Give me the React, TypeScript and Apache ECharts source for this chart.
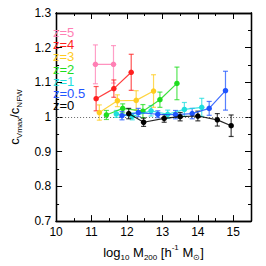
import React, { useEffect, useRef } from "react";
import * as echarts from "echarts";

const labels = ["z=5", "z=4", "z=3", "z=2", "z=1", "z=0.5", "z=0"];
const colors = ["#ff7fb4", "#ff1f1f", "#ffcc1f", "#1fdd1f", "#1fdede", "#1f55ff", "#000000"];

const z5X = [11.11, 11.62];
const z5Y = [1.152, 1.152];
const z5E = [0.056, 0.054];
const z4X = [11.13, 11.63, 12.12];
const z4Y = [1.053, 1.082, 1.129];
const z4E = [0.035, 0.025, 0.052];
const z3X = [11.22, 11.73, 12.26, 12.75];
const z3Y = [1.013, 1.047, 1.048, 1.075];
const z3E = [0.022, 0.017, 0.028, 0.047];
const z2X = [11.42, 11.88, 12.45, 12.93, 13.41];
const z2Y = [1.006, 1.025, 1.017, 1.05, 1.097];
const z2E = [0.013, 0.013, 0.019, 0.022, 0.047];
const z1X = [11.7, 12.15, 12.68, 13.15, 13.62, 14.11];
const z1Y = [1.009, 1.002, 1.018, 1.008, 1.022, 1.028];
const z1E = [0.01, 0.01, 0.015, 0.012, 0.02, 0.026];
const z05X = [11.86, 12.32, 12.87, 13.37, 13.84, 14.32, 14.78];
const z05Y = [1.004, 1.013, 1.008, 1.007, 1.01, 1.025, 1.076];
const z05E = [0.012, 0.012, 0.01, 0.012, 0.015, 0.02, 0.056];
const z0X = [12.05, 12.47, 13.05, 13.5, 14.0, 14.55, 14.94];
const z0Y = [1.01, 0.985, 0.996, 1.001, 1.003, 0.992, 0.975];
const z0E = [0.015, 0.012, 0.011, 0.012, 0.014, 0.018, 0.031];

const allX = [z5X, z4X, z3X, z2X, z1X, z05X, z0X];
const allY = [z5Y, z4Y, z3Y, z2Y, z1Y, z05Y, z0Y];
const allE = [z5E, z4E, z3E, z2E, z1E, z05E, z0E];

const FONT = "Liberation Sans";

export default function App() {
  const ref = useRef<HTMLDivElement>(null);
  useEffect(() => {
    const chart = echarts.init(ref.current!, null, { renderer: "svg" });
    const grid = { left: 40, right: 15, top: 13, bottom: 39 };
    const axisLine = { show: true, lineStyle: { color: "#000", width: 1.3 } };
    const mkX = (pos: string, interval: number, len: number, showLabel: boolean, name?: any) => ({
      type: "value",
      position: pos,
      min: 10,
      max: 15.5,
      interval,
      axisLine,
      axisTick: { show: true, inside: true, length: len, lineStyle: { color: "#000", width: 1 } },
      axisLabel: {
        show: showLabel,
        color: "#000",
        fontFamily: FONT,
        fontSize: 12,
        margin: 5,
        showMaxLabel: false,
        formatter: (v: number) => (Number.isInteger(v) ? String(v) : ""),
      },
      splitLine: { show: false },
      ...(name || {}),
    });
    const mkY = (pos: string, interval: number, len: number, showLabel: boolean, name?: any) => ({
      type: "value",
      position: pos,
      min: 0.7,
      max: 1.3,
      interval,
      axisLine,
      axisTick: { show: true, inside: true, length: len, lineStyle: { color: "#000", width: 1 } },
      axisLabel: {
        show: showLabel,
        color: "#000",
        fontFamily: FONT,
        fontSize: 12,
        margin: 5,
        formatter: (v: number) => String(Math.round(v * 10) / 10),
      },
      splitLine: { show: false },
      ...(name || {}),
    });

    const xName = {
      name: "{b|log}{s|10}{b| M}{s|200}{b| [h}{p|-1}{b| M}{s|⊙}{b|]}",
      nameLocation: "middle",
      nameGap: 21,
      nameTextStyle: {
        rich: {
          b: { fontSize: 13, fontFamily: FONT, color: "#000", lineHeight: 18, verticalAlign: "middle" },
          s: { fontSize: 8, fontFamily: FONT, color: "#000", lineHeight: 18, verticalAlign: "bottom" },
          p: { fontSize: 8, fontFamily: FONT, color: "#000", lineHeight: 18, verticalAlign: "top" },
        },
      },
    };
    const yName = {
      name: "{b|c}{s|Vmax}{b|/c}{s|NFW}",
      nameLocation: "middle",
      nameGap: 28,
      nameRotate: 90,
      nameTextStyle: {
        rich: {
          b: { fontSize: 13, fontFamily: FONT, color: "#000", lineHeight: 18, verticalAlign: "middle" },
          s: { fontSize: 8, fontFamily: FONT, color: "#000", lineHeight: 18, verticalAlign: "bottom" },
        },
      },
    };

    const series: any[] = [];
    allX.forEach((xs, i) => {
      const c = colors[i];
      const errData = xs.map((x, j) => [x, allY[i][j] - allE[i][j], allY[i][j] + allE[i][j]]);
      series.push({
        type: "custom",
        xAxisIndex: 0,
        yAxisIndex: 0,
        z: 2 + i,
        data: errData,
        renderItem: (params: any, api: any) => {
          const x = api.value(0);
          const lo = api.coord([x, api.value(1)]);
          const hi = api.coord([x, api.value(2)]);
          const w = 2.5;
          const st = { stroke: c, lineWidth: 1.2, opacity: 0.75 };
          return {
            type: "group",
            children: [
              { type: "line", shape: { x1: lo[0], y1: lo[1], x2: hi[0], y2: hi[1] }, style: st },
              { type: "line", shape: { x1: lo[0] - w, y1: lo[1], x2: lo[0] + w, y2: lo[1] }, style: st },
              { type: "line", shape: { x1: hi[0] - w, y1: hi[1], x2: hi[0] + w, y2: hi[1] }, style: st },
            ],
          };
        },
      });
      series.push({
        type: "line",
        xAxisIndex: 0,
        yAxisIndex: 0,
        z: 3 + i,
        data: xs.map((x, j) => [x, allY[i][j]]),
        symbol: "circle",
        symbolSize: 5.5,
        itemStyle: { color: c },
        lineStyle: { color: c, width: 1.2, opacity: 0.85 },
        ...(i === 6
          ? {
              markLine: {
                silent: true,
                symbol: "none",
                label: { show: false },
                lineStyle: { color: "#666", type: [1, 2], width: 1 },
                data: [{ yAxis: 1 }],
              },
            }
          : {}),
      });
    });

    chart.setOption({
      animation: false,
      backgroundColor: "#fff",
      grid,
      xAxis: [
        mkX("bottom", 1, 6, true, xName),
        mkX("bottom", 0.5, 3, false),
        mkX("top", 1, 6, false),
        mkX("top", 0.5, 3, false),
      ],
      yAxis: [
        mkY("left", 0.1, 6, true, yName),
        mkY("left", 0.05, 3, false),
        mkY("right", 0.1, 6, false),
        mkY("right", 0.05, 3, false),
      ],
      graphic: labels.map((t, i) => ({
        type: "text",
        x: 53,
        y: 26.5 + i * 12.2,
        z: 100,
        style: {
          text: t,
          fill: colors[i],
          fontSize: 13,
          fontFamily: FONT,
          lineHeight: 12,
          textVerticalAlign: "top",
        },
      })),
      series,
    });
    return () => chart.dispose();
  }, []);
  return <div ref={ref} style={{ width: 266, height: 266, position: "absolute", left: 0, top: 0 }} />;
}
